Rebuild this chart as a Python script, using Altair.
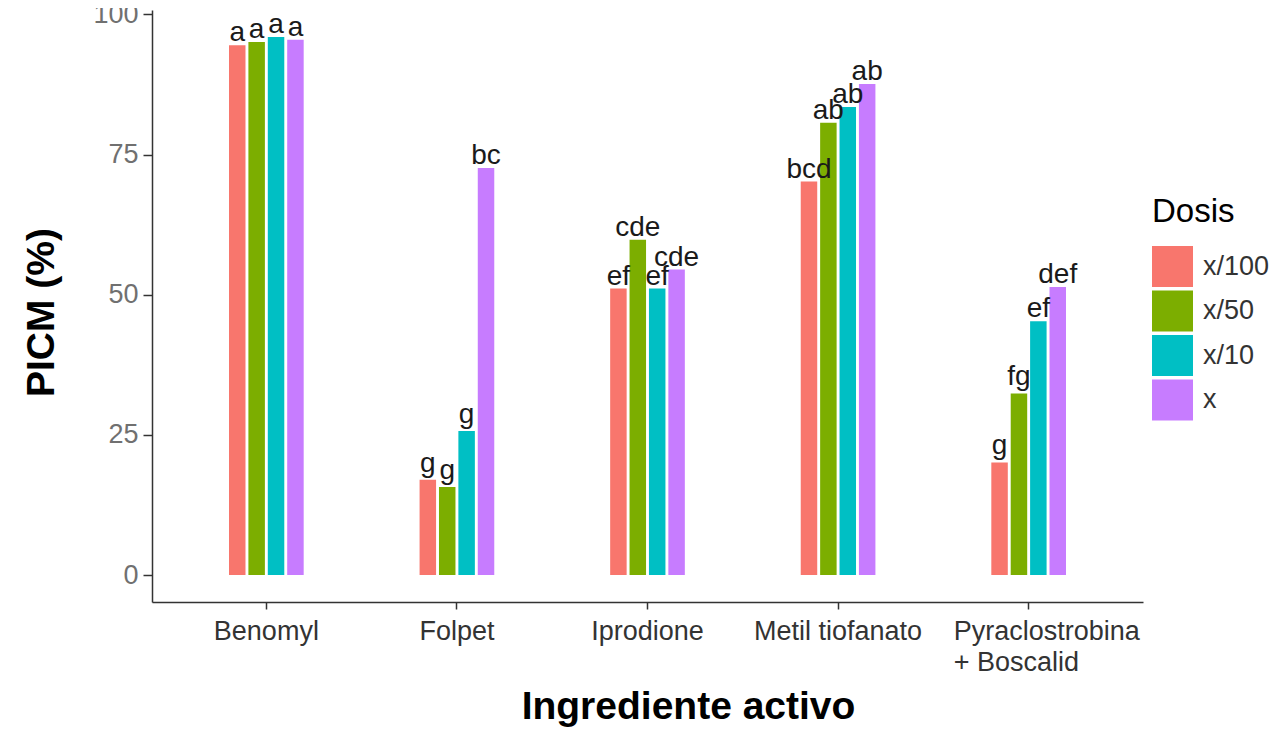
import altair as alt
import pandas as pd

# ---- data ----
ingredientes = ["Benomyl", "Folpet", "Iprodione", "Metil tiofanato", "Pyraclostrobina|+ Boscalid"]
dosis = ["x/100", "x/50", "x/10", "x"]
picm_x100 = [94.5, 17.0, 51.1, 70.2, 20.1]
picm_x50 = [95.1, 15.7, 59.8, 80.7, 32.4]
picm_x10 = [96.0, 25.7, 51.1, 83.5, 45.3]
picm_x = [95.5, 72.6, 54.5, 87.6, 51.4]
letras_x100 = ["a", "g", "ef", "bcd", "g"]
letras_x50 = ["a", "g", "cde", "ab", "fg"]
letras_x10 = ["a", "g", "ef", "ab", "ef"]
letras_x = ["a", "bc", "cde", "ab", "def"]
colores = ["#F8766D", "#7CAE00", "#00BFC4", "#C77CFF"]
y_ticks = [0, 25, 50, 75, 100]

series = {
    "x/100": (picm_x100, letras_x100),
    "x/50": (picm_x50, letras_x50),
    "x/10": (picm_x10, letras_x10),
    "x": (picm_x, letras_x),
}
rows = []
for d in dosis:
    vals, lets = series[d]
    for ing, v, l in zip(ingredientes, vals, lets):
        rows.append({"ingrediente": ing, "dosis": d, "picm": v, "letra": l})
df = pd.DataFrame(rows)

ymax = df["picm"].max()
ydomain = [-0.05 * ymax, 1.05 * ymax]

FONT = "Liberation Sans"
pyra_test = "indexof(datum.label, '|') >= 0"

x_scale = alt.Scale(paddingInner=0.6, paddingOuter=0.4)
xoff_scale = alt.Scale(paddingInner=0.15, paddingOuter=0.04)

x_enc = alt.X(
    "ingrediente:N",
    sort=ingredientes,
    scale=x_scale,
    title="Ingrediente activo",
    axis=alt.Axis(
        labelAngle=0,
        labelFont=FONT,
        labelFontSize=27,
        labelColor="#333333",
        labelPadding=9,
        labelLimit=0,
        labelOverlap=False,
        labelBaseline="top",
        labelLineHeight=31,
        labelExpr="split(datum.label, '|')",
        labelAlign={"condition": {"test": pyra_test, "value": "left"}, "value": "center"},
        labelOffset={"condition": {"test": pyra_test, "value": -75}, "value": 0},
        tickSize=7,
        tickWidth=1.5,
        tickColor="#333333",
        domainColor="#333333",
        domainWidth=1.5,
        grid=False,
        titleFont=FONT,
        titleFontSize=39,
        titleFontWeight="bold",
        titleColor="black",
        titleX=536,
        titleY=116,
        titleAlign="center",
        titleBaseline="alphabetic",
    ),
)
xoff_enc = alt.XOffset("dosis:N", sort=dosis, scale=xoff_scale)
y_enc = alt.Y(
    "picm:Q",
    scale=alt.Scale(domain=ydomain, nice=False, zero=False),
    title="PICM (%)",
    axis=alt.Axis(
        values=y_ticks,
        labelFont=FONT,
        labelFontSize=27,
        labelColor="#707070",
        labelPadding=5,
        tickSize=9,
        tickWidth=1.5,
        tickColor="#333333",
        domainColor="#333333",
        domainWidth=1.5,
        grid=False,
        titleFont=FONT,
        titleFontSize=39,
        titleFontWeight="bold",
        titleColor="black",
        titleX=-99,
        titleY=302,
        titleAlign="center",
        titleBaseline="alphabetic",
    ),
)
color_enc = alt.Color(
    "dosis:N",
    sort=dosis,
    scale=alt.Scale(domain=dosis, range=colores),
    legend=alt.Legend(
        orient="none",
        legendX=1000,
        legendY=186,
        title="Dosis",
        titleFont=FONT,
        titleFontSize=33,
        titleFontWeight="normal",
        titleColor="black",
        titlePadding=17,
        labelFont=FONT,
        labelFontSize=27,
        labelColor="#333333",
        labelOffset=10,
        symbolType="square",
        symbolSize=1681,
        symbolStrokeWidth=0,
        symbolOpacity=1,
        rowPadding=3.5,
        padding=0,
    ),
)

base = alt.Chart(df)

bars = base.mark_bar().encode(
    x=x_enc, xOffset=xoff_enc, y=y_enc, y2=alt.datum(0), color=color_enc
)

def letters(filter_expr, dy):
    return base.transform_filter(filter_expr).mark_text(
        font=FONT, fontSize=28, color="#1a1a1a", baseline="alphabetic", dy=dy
    ).encode(
        x=alt.X("ingrediente:N", sort=ingredientes, scale=x_scale),
        xOffset=alt.XOffset("dosis:N", sort=dosis, scale=xoff_scale),
        y="picm:Q",
        text="letra:N",
    )

text_plain = letters("indexof(datum.letra, 'g') < 0", -4)
text_g = letters("indexof(datum.letra, 'g') >= 0", -8)

chart = (
    alt.layer(bars, text_plain, text_g)
    .properties(
        width=991,
        height=592,
        autosize=alt.AutoSizeParams(type="none"),
        padding={"left": 144, "top": 2, "right": 132, "bottom": 128},
        background="white",
    )
    .configure(font=FONT)
    .configure_view(stroke=None)
)

chart.save("out.html", embed_options={"renderer": "svg", "actions": False})
